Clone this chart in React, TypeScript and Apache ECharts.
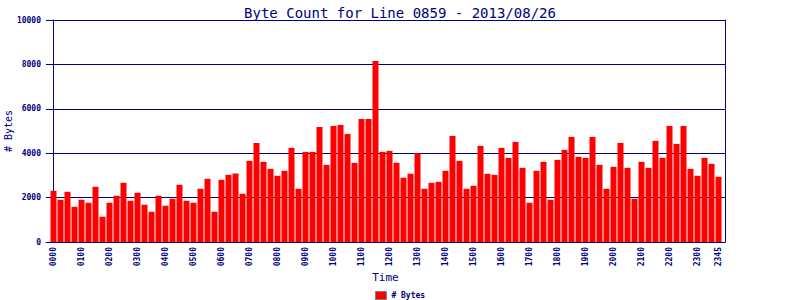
import React, { useEffect, useRef } from "react";
import * as echarts from "echarts";

const TITLE = "Byte Count for Line 0859 - 2013/08/26";
const SERIES_NAME = "# Bytes";

const times = [
  "0000","0015","0030","0045","0100","0115","0130","0145",
  "0200","0215","0230","0245","0300","0315","0330","0345",
  "0400","0415","0430","0445","0500","0515","0530","0545",
  "0600","0615","0630","0645","0700","0715","0730","0745",
  "0800","0815","0830","0845","0900","0915","0930","0945",
  "1000","1015","1030","1045","1100","1115","1130","1145",
  "1200","1215","1230","1245","1300","1315","1330","1345",
  "1400","1415","1430","1445","1500","1515","1530","1545",
  "1600","1615","1630","1645","1700","1715","1730","1745",
  "1800","1815","1830","1845","1900","1915","1930","1945",
  "2000","2015","2030","2045","2100","2115","2130","2145",
  "2200","2215","2230","2245","2300","2315","2330","2345",
];

const bytes = [
  2307, 1903, 2262, 1588, 1903, 1768, 2487, 1138,
  1768, 2082, 2666, 1858, 2217, 1678, 1363, 2082,
  1633, 1948, 2577, 1858, 1768, 2397, 2846, 1363,
  2801, 3026, 3085, 2172, 3655, 4464, 3610, 3296,
  2981, 3206, 4240, 2397, 4060, 4060, 5183, 3475,
  5228, 5273, 4867, 3565, 5540, 5540, 8153, 4060,
  4105, 3570, 2895, 3075, 3998, 2397, 2666, 2711,
  3206, 4779, 3655, 2397, 2532, 4329, 3071, 3026,
  4240, 3790, 4509, 3340, 1768, 3206, 3610, 1903,
  3700, 4150, 4734, 3835, 3790, 4734, 3475, 2397,
  3385, 4464, 3340, 1948, 3610, 3340, 4554, 3790,
  5228, 4419, 5228, 3296, 2981, 3790, 3520, 2936,
];

const labelIndices = [0, 4, 8, 12, 16, 20, 24, 28, 32, 36, 40, 44, 48, 52, 56, 60, 64, 68, 72, 76, 80, 84, 88, 92, 95];
const yTicks = [0, 2000, 4000, 6000, 8000, 10000];

const NAVY = "#000080";
const MONO = "'DejaVu Sans Mono', 'Liberation Mono', monospace";

export default function App() {
  const ref = useRef<HTMLDivElement>(null);
  useEffect(() => {
    if (!ref.current) return;
    const chart = echarts.init(ref.current, undefined, { renderer: "svg" });
    chart.setOption({
      animation: false,
      backgroundColor: "#ffffff",
      title: {
        text: TITLE,
        left: "center",
        top: 1,
        textStyle: { color: NAVY, fontFamily: MONO, fontSize: 14, fontWeight: "normal" },
      },
      legend: {
        data: [SERIES_NAME],
        left: "center",
        top: 291,
        padding: 0,
        itemWidth: 11,
        itemHeight: 8,
        itemGap: 4,
        icon: "rect",
        itemStyle: { borderColor: "#808080", borderWidth: 1 },
        textStyle: { color: NAVY, fontFamily: MONO, fontSize: 8, fontWeight: "bold", lineHeight: 8 },
      },
      grid: { left: 46, right: 75, top: 20, bottom: 58, outerBoundsMode: "none", containLabel: false },
      xAxis: {
        type: "value",
        min: -1.0714,
        max: 95.9286,
        name: "Time",
        nameLocation: "middle",
        nameGap: 30,
        nameMoveOverlap: false,
        nameTextStyle: { color: NAVY, fontFamily: MONO, fontSize: 11 },
        axisLine: { show: true, onZero: false, lineStyle: { color: NAVY, width: 1 } },
        axisTick: { show: false },
        splitLine: { show: false },
        axisLabel: {
          customValues: labelIndices,
          rotate: 90,
          margin: 5,
          color: NAVY,
          fontFamily: MONO,
          fontSize: 8,
          fontWeight: "bold",
          formatter: (v: number) => times[Math.round(v)] ?? "",
        },
      },
      yAxis: [
        {
          type: "value",
          min: 0,
          max: 10000,
          interval: 2000,
          name: SERIES_NAME,
          nameLocation: "middle",
          nameGap: 33,
          nameMoveOverlap: false,
          nameTextStyle: { color: NAVY, fontFamily: MONO, fontSize: 10 },
          axisLine: { show: true, lineStyle: { color: NAVY, width: 1 } },
          axisTick: { show: true, length: 4, lineStyle: { color: NAVY } },
          splitLine: { show: true, lineStyle: { color: NAVY, width: 1 } },
          axisLabel: {
            customValues: yTicks,
            margin: 5,
            color: NAVY,
            fontFamily: MONO,
            fontSize: 8,
            fontWeight: "bold",
            formatter: (v: number) => String(v),
          },
        },
        {
          type: "value",
          position: "right",
          min: 0,
          max: 10000,
          interval: 2000,
          axisLine: { show: true, lineStyle: { color: NAVY, width: 1 } },
          axisTick: { show: false },
          splitLine: { show: false },
          axisLabel: { show: false },
        },
      ],
      series: [
        {
          name: SERIES_NAME,
          type: "bar",
          yAxisIndex: 0,
          barWidth: 6,
          itemStyle: { color: "#ff0000" },
          data: bytes.map((v, i) => [i, v]),
        },
      ],
    });
    return () => chart.dispose();
  }, []);
  return <div ref={ref} style={{ width: 800, height: 300, position: "absolute", left: 0, top: 0 }} />;
}
